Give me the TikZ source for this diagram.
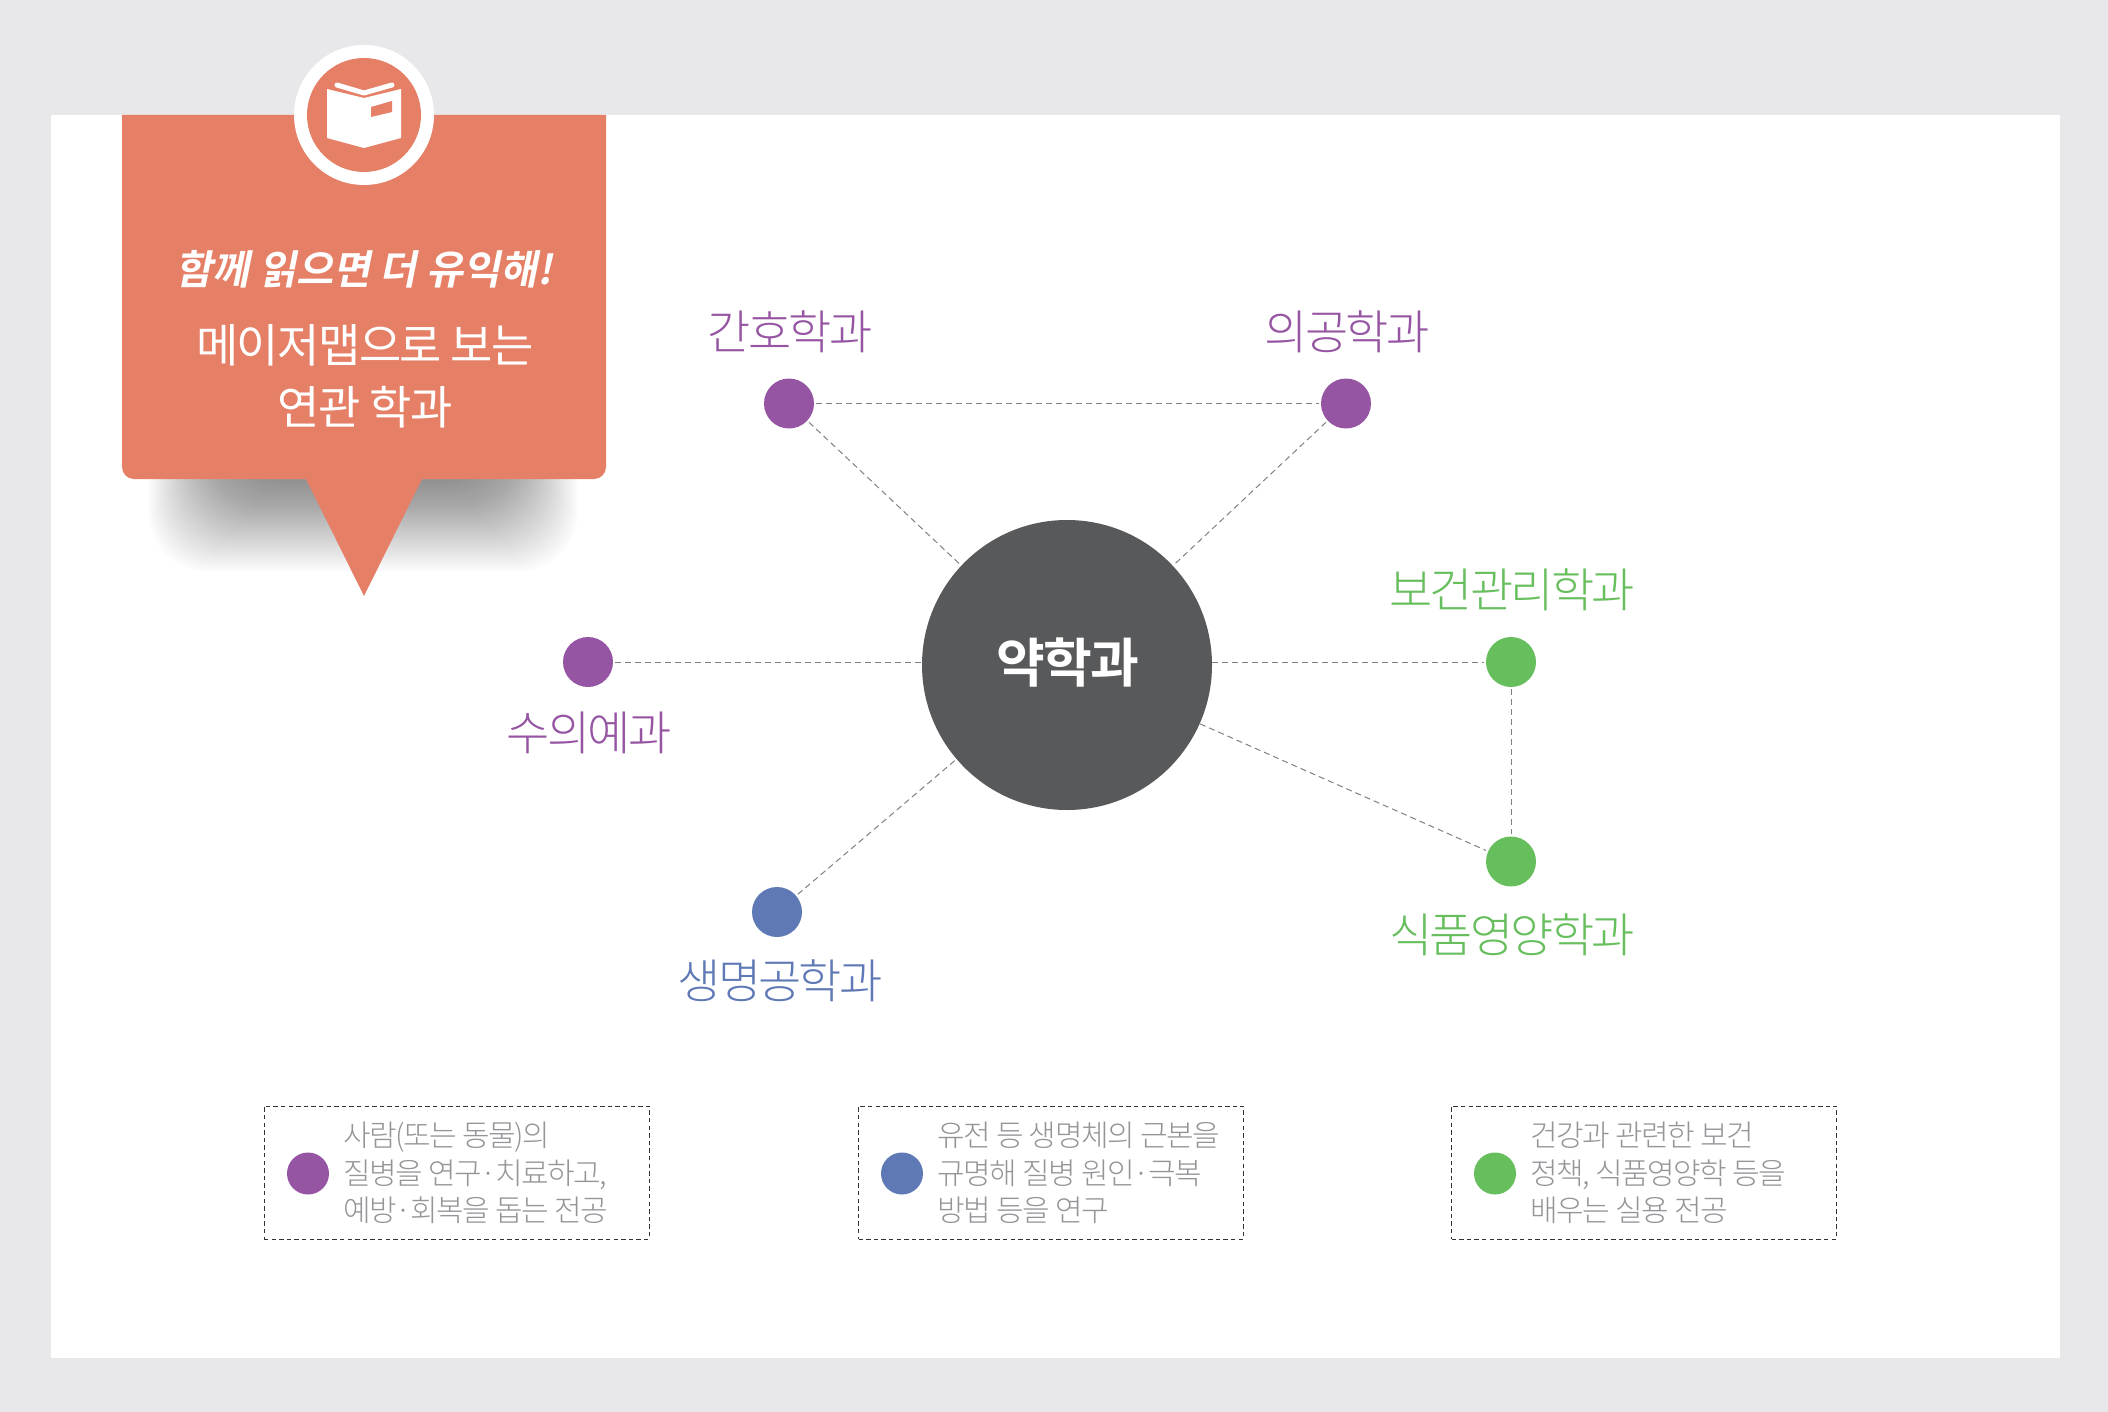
\documentclass[tikz,border=0pt]{standalone}
\usepackage{fontspec}
\setmainfont{Noto Sans CJK KR}
\newfontfamily\lightfont[LetterSpace=-6]{Noto Sans CJK KR Light}
\newfontfamily\notefont[LetterSpace=-5]{Noto Sans CJK KR Light}
\newfontfamily\titlefont[LetterSpace=-3.5]{Noto Sans CJK KR}
\newfontfamily\corefont[LetterSpace=-4]{Noto Sans CJK KR Bold}
\newfontfamily\handfont[FakeSlant=0.2]{Noto Sans CJK KR Bold}
\usepackage{xcolor}
\definecolor{paper}{HTML}{E8E7EA}
\definecolor{salmon}{HTML}{E57F66}
\definecolor{core}{HTML}{58595B}
\definecolor{purp}{HTML}{9655A2}
\definecolor{blu}{HTML}{5E79B5}
\definecolor{gre}{HTML}{66BE5C}
\definecolor{link}{HTML}{7F8183}
\definecolor{note}{HTML}{939598}
\tikzset{
  dot/.style={circle, fill=#1, minimum size=25pt, inner sep=0pt, outer sep=1.2pt},
  smalldot/.style={circle, fill=#1, minimum size=21pt, inner sep=0pt},
  major/.style={text=#1, font=\lightfont\fontsize{23.5}{28}\selectfont},
  link/.style={draw=link, line width=0.5pt, dash pattern=on 3pt off 2pt},
  notebox/.style={draw=black!80, line width=0.35pt, dash pattern=on 2.2pt off 1.6pt, minimum width=192.5pt, minimum height=66.5pt},
  notetext/.style={anchor=west, align=left, text=note, font=\notefont\fontsize{15}{18.75}\selectfont, inner sep=0pt},
  boxtext/.style={text=white, font=\titlefont\fontsize{23}{28}\selectfont}
}
\begin{document}
\begin{tikzpicture}[x=0.5pt, y=-0.5pt]
      \useasboundingbox (0,0) rectangle (2108,1412);
      \fill[paper] (0,0) rectangle (2108,1412);
      \fill[white] (51,115) rectangle (2060,1358);
      \foreach \i in {0,...,39} {
        \fill[black, opacity=0.012, rounded corners=30pt] (148+2*\i,400) rectangle (578-2*\i,572-2.3*\i);
      }
      \fill[salmon] (122,115) -- (606,115) [rounded corners=6pt] -- (606,479) [sharp corners] -- (422,479) -- (364,596) -- (306,479) [rounded corners=6pt] -- (122,479) [sharp corners] -- cycle;
      \fill[white] (364,115) circle (70);
      \fill[salmon] (364,115) circle (57);
      \fill[white] (327,89) -- (364,98) -- (401,89) -- (401,138) -- (364,148) -- (327,138) -- cycle;
      \draw[white, line width=2.5pt, line cap=round, line join=round] (337,85) -- (364,93) -- (392,85);
      \fill[salmon] (371,107) -- (392,101) -- (392,112) -- (371,117) -- cycle;
      \node[boxtext] (hand) at (364,269) {\handfont\fontsize{20.2}{26}\selectfont 함께 읽으면 더 유익해!};
      \node[boxtext] (title) at (365,345) {메이저맵으로 보는};
      \node[boxtext] (titleb) at (365,407) {연관 학과};

      \node[circle, fill=core, minimum size=145pt, inner sep=0pt] (pharm) at (1067,665) {};
      \node[text=white, font=\corefont\fontsize{26.5}{30}\selectfont] (pharml) at (1068,663) {약학과};
      \node[dot=purp] (nurse) at (789,403.5) {};
      \node[dot=purp] (biomed) at (1346,403.5) {};
      \node[dot=purp] (vet) at (588,662) {};
      \node[dot=gre] (health) at (1511,662) {};
      \node[dot=gre] (food) at (1511,861.5) {};
      \node[dot=blu] (bio) at (777,912) {};
      \node[major=purp] (nursel) at (790,332) {간호학과};
      \node[major=purp] (biomedl) at (1347,332) {의공학과};
      \node[major=purp] (vetl) at (589,733) {수의예과};
      \node[major=gre] (healthl) at (1512,590) {보건관리학과};
      \node[major=gre] (foodl) at (1512,935) {식품영양학과};
      \node[major=blu] (biol) at (780,981) {생명공학과};

      \draw[link] (nurse) -- (biomed);
      \draw[link] (nurse) -- (pharm);
      \draw[link] (biomed) -- (pharm);
      \draw[link] (vet) -- (pharm.west |- vet);
      \draw[link] (pharm.east |- health) -- (health);
      \draw[link] (pharm) -- (food);
      \draw[link] (health) -- (food);
      \draw[link] (bio) -- (pharm);

      \node[notebox] (boxa) at (456.5,1172.5) {};
      \node[notebox] (boxb) at (1051,1172.5) {};
      \node[notebox] (boxc) at (1644,1172.5) {};
      \node[smalldot=purp] (dota) at (308,1173.5) {};
      \node[smalldot=blu] (dotb) at (902,1173.5) {};
      \node[smalldot=gre] (dotc) at (1495,1173.5) {};
      \node[notetext] (notea) at (343,1173) {사람(또는 동물)의\\질병을 연구·치료하고,\\예방·회복을 돕는 전공};
      \node[notetext] (noteb) at (937,1173) {유전 등 생명체의 근본을\\규명해 질병 원인·극복\\방법 등을 연구};
      \node[notetext] (notec) at (1530,1173) {건강과 관련한 보건\\정책, 식품영양학 등을\\배우는 실용 전공};
    \end{tikzpicture}
\end{document}
